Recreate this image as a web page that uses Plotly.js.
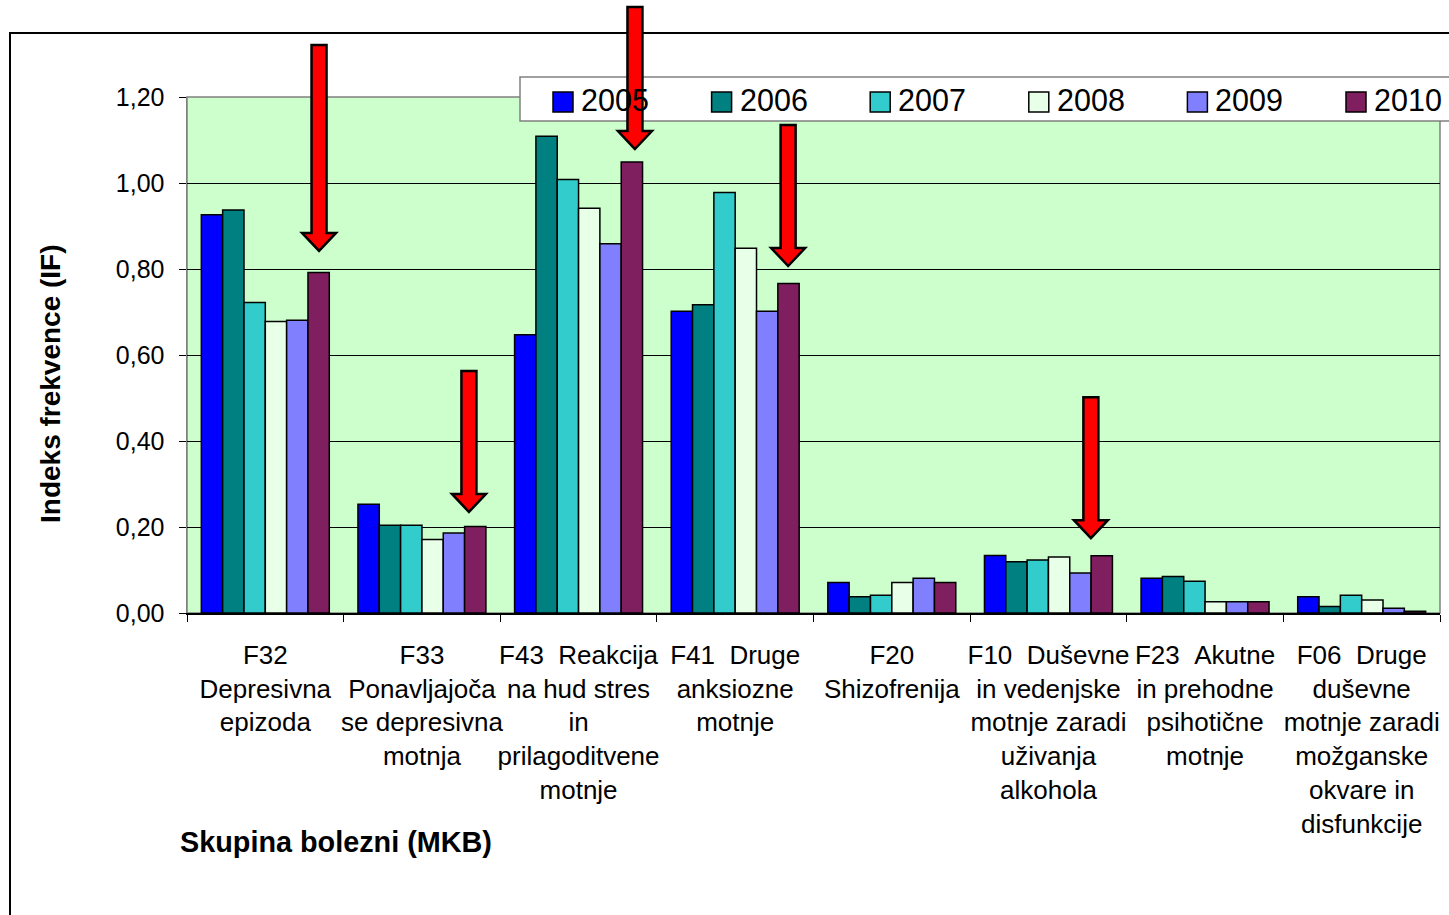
<!DOCTYPE html>
<html>
<head>
<meta charset="utf-8">
<script src="https://cdn.plot.ly/plotly-3.0.1.min.js"></script>
<style>html,body{margin:0;padding:0;background:#fff;}#chart{width:1449px;height:915px;}</style>
</head>
<body>
<div id="chart"></div>
<script>
// ---- data ----
const categories = [
  "F32<br>Depresivna<br>epizoda",
  "F33<br>Ponavljajoča<br>se depresivna<br>motnja",
  "F43\u00a0\u00a0Reakcija<br>na hud stres<br>in<br>prilagoditvene<br>motnje",
  "F41\u00a0\u00a0Druge<br>anksiozne<br>motnje",
  "F20<br>Shizofrenija",
  "F10\u00a0\u00a0Duševne<br>in vedenjske<br>motnje zaradi<br>uživanja<br>alkohola",
  "F23\u00a0\u00a0Akutne<br>in prehodne<br>psihotične<br>motnje",
  "F06\u00a0\u00a0Druge<br>duševne<br>motnje zaradi<br>možganske<br>okvare in<br>disfunkcije"
];
const years = ["2005", "2006", "2007", "2008", "2009", "2010"];
const v2005 = [0.926, 0.253, 0.647, 0.702, 0.071, 0.134, 0.081, 0.038];
const v2006 = [0.937, 0.204, 1.109, 0.717, 0.038, 0.119, 0.085, 0.015];
const v2007 = [0.722, 0.204, 1.008, 0.978, 0.041, 0.123, 0.074, 0.041];
const v2008 = [0.678, 0.171, 0.941, 0.848, 0.071, 0.130, 0.026, 0.030];
const v2009 = [0.681, 0.186, 0.859, 0.702, 0.081, 0.093, 0.026, 0.011];
const v2010 = [0.792, 0.201, 1.049, 0.766, 0.071, 0.133, 0.026, 0.004];
const seriesValues = [v2005, v2006, v2007, v2008, v2009, v2010];
const colors = ["#0000FF", "#008080", "#33CCCC", "#E8FFE8", "#8080FF", "#7F1F5F"];
const yTitle = "Indeks frekvence (IF)";
const xTitle = "Skupina bolezni (MKB)";
// arrows: category index, offset within category, value at arrow tip, arrow length (px)
const arrowCat = [0, 1, 2, 3, 5];
const arrowOffset = [0.343, 0.300, 0.360, 0.338, 0.271];
const arrowTip = [0.842, 0.235, 1.079, 0.807, 0.174];
const arrowLen = [206, 141, 142, 141, 141];

// ---- layout geometry ----
const W = 1449, H = 915;
const M = {l: 187, r: 9, t: 97, b: 302};
const PW = W - M.l - M.r, PH = H - M.t - M.b;
const YMAX = 1.2;
const px2x = p => (p - M.l) / PW;          // absolute pixel -> paper x
const px2y = p => (H - M.b - p) / PH;      // absolute pixel -> paper y
const dx = p => p / PW, dy = p => p / PH;  // pixel lengths -> paper lengths

const traces = years.map((yr, i) => ({
  type: "bar",
  name: yr,
  x: categories,
  y: seriesValues[i],
  marker: {color: colors[i], line: {color: "#000", width: 1.5}},
  showlegend: false,
  hoverinfo: "x+y+name"
}));

const shapes = [];
// outer chart border
shapes.push({type: "rect", xref: "paper", yref: "paper",
  x0: px2x(10), x1: px2x(W + 40), y0: px2y(33), y1: px2y(H + 40),
  line: {color: "#000", width: 2}, fillcolor: "rgba(0,0,0,0)", layer: "below"});
// plot area border (grey)
shapes.push({type: "rect", xref: "paper", yref: "paper", x0: 0, x1: 1, y0: 0, y1: 1,
  line: {color: "#808080", width: 1.5}, fillcolor: "rgba(0,0,0,0)", layer: "below"});
// legend box
shapes.push({type: "rect", xref: "paper", yref: "paper",
  x0: px2x(520), x1: px2x(W + 40), y0: px2y(121), y1: px2y(77),
  line: {color: "#808080", width: 1.5}, fillcolor: "#fff", layer: "above"});
const annotations = [];
years.forEach((yr, i) => {
  const left = 553 + i * 158.6;
  shapes.push({type: "rect", xref: "paper", yref: "paper",
    x0: px2x(left), x1: px2x(left + 20), y0: px2y(112), y1: px2y(92),
    line: {color: "#000", width: 1.5}, fillcolor: colors[i], layer: "above"});
  annotations.push({xref: "paper", yref: "paper", x: px2x(left + 26), y: px2y(100),
    xanchor: "left", yanchor: "middle", showarrow: false, text: yr,
    font: {family: "Liberation Sans, Arial, sans-serif", size: 30.5, color: "#000"}});
});
// red arrows
arrowCat.forEach((c, i) => {
  const ax = (c + 0.5 + arrowOffset[i]) / categories.length;
  const ay = arrowTip[i] / YMAX;
  const sh = dx(7.5), hh = dx(17), hl = dy(18), L = dy(arrowLen[i]);
  const path = `M${ax},${ay} L${ax - hh},${ay + hl} L${ax - sh},${ay + hl} L${ax - sh},${ay + L} ` +
    `L${ax + sh},${ay + L} L${ax + sh},${ay + hl} L${ax + hh},${ay + hl} Z`;
  shapes.push({type: "path", xref: "paper", yref: "paper", path: path,
    fillcolor: "#FF0000", line: {color: "#000", width: 2.5}, layer: "above"});
});
// axis titles
annotations.push({xref: "paper", yref: "paper", x: px2x(50), y: px2y(384),
  xanchor: "center", yanchor: "middle", textangle: -90, showarrow: false,
  text: "<b>" + yTitle + "</b>",
  font: {family: "Liberation Sans, Arial, sans-serif", size: 28, color: "#000"}});
annotations.push({xref: "paper", yref: "paper", x: px2x(178), y: px2y(842),
  xanchor: "left", yanchor: "middle", showarrow: false,
  text: "<b>" + xTitle + "</b>",
  font: {family: "Liberation Sans, Arial, sans-serif", size: 28.8, color: "#000"}});

const layout = {
  width: W, height: H,
  margin: M,
  paper_bgcolor: "#fff",
  plot_bgcolor: "#CCFFCC",
  barmode: "group",
  bargap: 0.183,
  bargroupgap: 0,
  separators: ", ",
  showlegend: false,
  font: {family: "Liberation Sans, Arial, sans-serif", color: "#000"},
  xaxis: {
    type: "category",
    tickson: "boundaries",
    ticks: "outside", ticklen: 7, tickcolor: "#000", tickwidth: 1,
    showline: true, linecolor: "#000", linewidth: 1.5,
    showgrid: false,
    tickangle: 0,
    ticklabelstandoff: 18,
    tickfont: {size: 26, color: "#000"}
  },
  yaxis: {
    range: [0, YMAX], dtick: 0.2, tick0: 0, tickformat: ".2f",
    ticks: "outside", ticklen: 7, tickcolor: "#000", tickwidth: 1,
    showline: true, linecolor: "#808080", linewidth: 1.5,
    showgrid: true, gridcolor: "#000", gridwidth: 1,
    zeroline: false,
    ticklabelstandoff: 9,
    tickfont: {size: 25, color: "#000"}
  },
  shapes: shapes,
  annotations: annotations
};

Plotly.newPlot("chart", traces, layout, {displayModeBar: false, staticPlot: true});
</script>
</body>
</html>
